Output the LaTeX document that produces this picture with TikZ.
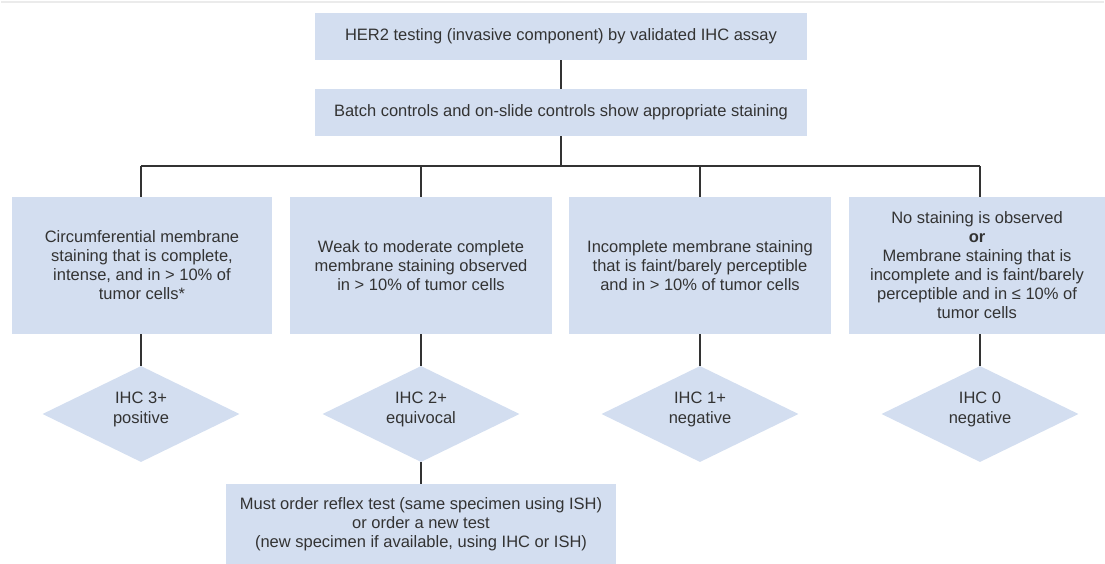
\documentclass[tikz,border=0pt]{standalone}
\usepackage{fontspec}
\setmainfont{Liberation Sans}
\usetikzlibrary{shapes.geometric}
\definecolor{boxfill}{HTML}{D3DEF0}
\definecolor{txt}{HTML}{333333}
\definecolor{ln}{HTML}{333333}
\tikzset{
  box/.style={fill=boxfill, draw=none, inner sep=0pt, align=center, text=txt,
    font=\fontsize{16.5}{19}\selectfont},
  dia/.style={diamond, fill=boxfill, draw=none, inner sep=0pt,
    minimum width=197pt, minimum height=96pt, aspect=2.05},
  dtext/.style={inner sep=0pt, align=center, text=txt, yshift=5pt,
    font=\fontsize{16.5}{20}\selectfont},
  conn/.style={draw=ln, line width=2pt}
}
\begin{document}
\begin{tikzpicture}[x=1pt,y=-1pt]
\useasboundingbox (0,0) rectangle (1105,563);
\draw[draw=black!8, line width=1.5pt] (1,2) -- (1104,2);
% top boxes
\node[box, minimum width=492pt, minimum height=47pt] (n1) at (561,36.5)
  {HER2 testing (invasive component) by validated IHC assay};
\node[box, minimum width=492pt, minimum height=47pt] (n2) at (561,112.5)
  {Batch controls and on-slide controls show appropriate staining};
% bus
\coordinate (bus) at (561,166);
\coordinate (b1) at (141,166);
\coordinate (b2) at (421,166);
\coordinate (b3) at (700,166);
\coordinate (b4) at (980,166);
% category boxes
\node[box, minimum width=260pt, minimum height=137pt] (c1) at (142,265.5)
  {Circumferential membrane\\staining that is complete,\\intense, and in > 10\% of\\tumor cells*};
\node[box, minimum width=262pt, minimum height=137pt] (c2) at (421,265.5)
  {Weak to moderate complete\\membrane staining observed\\in > 10\% of tumor cells};
\node[box, minimum width=262pt, minimum height=137pt] (c3) at (700,265.5)
  {Incomplete membrane staining\\that is faint/barely perceptible\\and in > 10\% of tumor cells};
\node[box, minimum width=256pt, minimum height=137pt] (c4) at (977,265.5)
  {No staining is observed\\\textbf{or}\\Membrane staining that is\\incomplete and is faint/barely\\perceptible and in ≤ 10\% of\\tumor cells};
% diamonds
\node[dia, label={[dtext]center:{IHC 3+\\positive}}] (d1) at (141,414) {};
\node[dia, label={[dtext]center:{IHC 2+\\equivocal}}] (d2) at (421,414) {};
\node[dia, label={[dtext]center:{IHC 1+\\negative}}] (d3) at (700,414) {};
\node[dia, label={[dtext]center:{IHC 0\\negative}}] (d4) at (980,414) {};
% bottom box
\node[box, minimum width=390pt, minimum height=80pt] (r) at (421,524)
  {Must order reflex test (same specimen using ISH)\\or order a new test\\(new specimen if available, using IHC or ISH)};
% connectors
\draw[conn] (n1.south) -- (n2.north);
\draw[conn] (n2.south) -- (bus);
\draw[conn] (b1) -- (b4);
\draw[conn] (b1) -- (c1.north -| b1);
\draw[conn] (b2) -- (c2.north -| b2);
\draw[conn] (b3) -- (c3.north -| b3);
\draw[conn] (b4) -- (c4.north -| b4);
\draw[conn] (c1.south -| d1.north) -- (d1.north);
\draw[conn] (c2.south -| d2.north) -- (d2.north);
\draw[conn] (c3.south -| d3.north) -- (d3.north);
\draw[conn] (c4.south -| d4.north) -- (d4.north);
\draw[conn] (d2.south) -- (r.north);
\end{tikzpicture}
\end{document}
